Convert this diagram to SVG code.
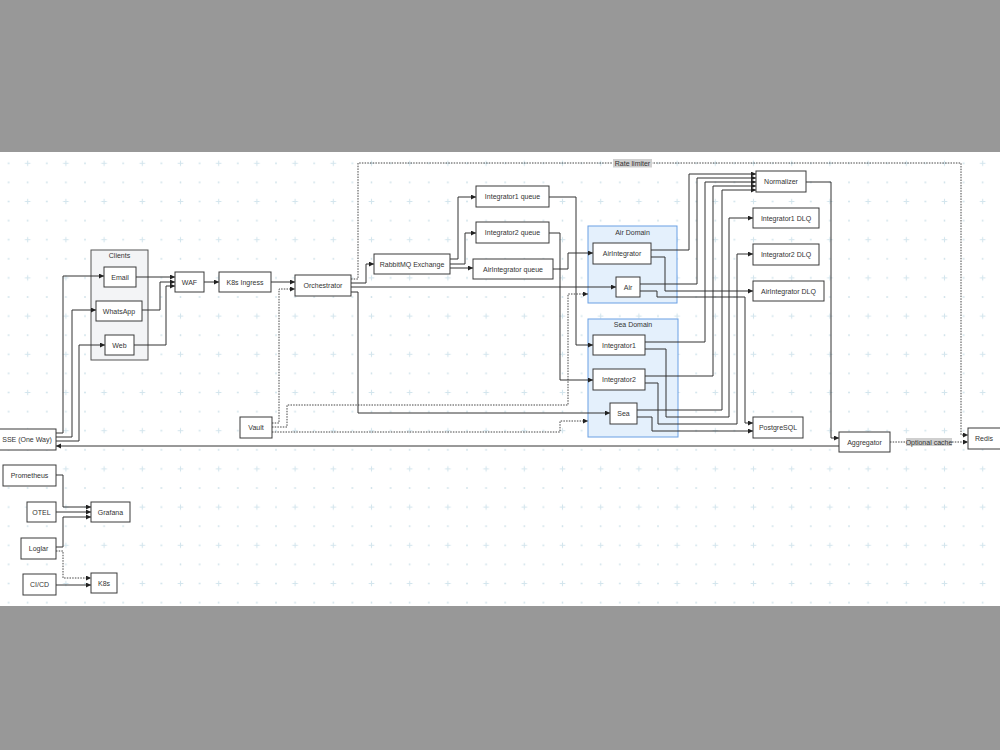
<svg xmlns="http://www.w3.org/2000/svg" width="1000" height="750" viewBox="0 0 1000 750">
<defs>
<pattern id="grid" patternUnits="userSpaceOnUse" x="8.6" y="144.2" width="38.2" height="38.2">
<circle cx="0" cy="0" r="0.9" fill="#cfe2ea"/>
<circle cx="19.1" cy="0" r="0.9" fill="#cfe2ea"/>
<circle cx="0" cy="19.1" r="0.9" fill="#cfe2ea"/>
<circle cx="38.2" cy="0" r="0.9" fill="#cfe2ea"/>
<circle cx="0" cy="38.2" r="0.9" fill="#cfe2ea"/>
<circle cx="38.2" cy="38.2" r="0.9" fill="#cfe2ea"/>
<circle cx="38.2" cy="19.1" r="0.9" fill="#cfe2ea"/>
<circle cx="19.1" cy="38.2" r="0.9" fill="#cfe2ea"/>
<path d="M16.3,19.1 H21.9 M19.1,16.3 V21.9" stroke="#d3e5ed" stroke-width="1.1"/>
</pattern>
<marker id="arr" markerUnits="userSpaceOnUse" markerWidth="6" markerHeight="6" refX="5" refY="2.5" orient="auto">
<path d="M0,0 L5,2.5 L0,5 z" fill="#222"/>
</marker>
<style>
.bg{fill:#989898}
.n rect{fill:#ffffff;stroke:#3a3a3a;stroke-width:1}
.n text,.g text,.lbl text{font-family:"Liberation Sans",Arial,sans-serif;font-size:7px;fill:#333;text-anchor:middle;dominant-baseline:central}
.g.clients rect{fill:#f3f4f6;stroke:#555;stroke-width:1}
.g.dom rect{fill:#e4f0fc;stroke:#6aa0e4;stroke-width:1}
.c path{fill:none;stroke:#333;stroke-width:1}
.c path.a{marker-end:url(#arr)}
.c path.d{stroke-dasharray:1.5 1.2;stroke:#444}
.lbl rect{fill:#cfcfcf}
</style>
</defs>
<rect x="0" y="0" width="1000" height="750" fill="#ffffff"/>
<rect x="0" y="152" width="1000" height="454" fill="url(#grid)"/>
<rect class="bg" x="0" y="0" width="1000" height="152"/>
<rect class="bg" x="0" y="606" width="1000" height="144"/>

<g id="clients" class="g clients"><rect x="91" y="250" width="57" height="110"/><text x="119.5" y="255.5">Clients</text></g>
<g id="air-domain" class="g dom"><rect x="588" y="226" width="89" height="77"/><text x="632.5" y="232">Air Domain</text></g>
<g id="sea-domain" class="g dom"><rect x="588" y="319" width="90" height="118"/><text x="633" y="324">Sea Domain</text></g>

<g id="connectors" class="c">
<path class="a" d="M56,433 H63 V276 H104"/>
<path class="a" d="M56,437 H72 V310 H96"/>
<path class="a" d="M56,441 H79 V345 H105"/>
<path class="a" d="M136,277 H175"/>
<path class="a" d="M142,310 H160 V282 H175"/>
<path class="a" d="M134,345 H166 V286 H175"/>
<path class="a" d="M204,282 H219"/>
<path class="a" d="M271,282 H295"/>
<path class="a d" d="M272,423 H279 V289 H295"/>
<path class="a d" d="M272,427 H287 V405 H568 V294 H588"/>
<path class="a d" d="M272,432 H560 V421 H588"/>
<path class="a" d="M351,283 H366 V264 H374"/>
<path class="a d" d="M351,279 H358 V163 H961 V435 H968"/>
<path class="a" d="M351,287 H616"/>
<path class="a" d="M351,292 H358 V413 H610"/>
<path class="a" d="M450,259 H458 V197 H476"/>
<path class="a" d="M450,264 H465 V233 H476"/>
<path class="a" d="M450,268 H473"/>
<path class="a" d="M549,197 H576 V345 H593"/>
<path class="a" d="M549,233 H560 V380 H593"/>
<path class="a" d="M553,269 H568 V253 H593"/>
<path class="a" d="M651,250 H689 V174 H756"/>
<path class="a" d="M640,284 H697 V178 H756"/>
<path class="a" d="M645,342 H705 V182 H756"/>
<path class="a" d="M645,376 H713 V186 H756"/>
<path class="a" d="M637,410 H722 V190 H756"/>
<path class="a" d="M651,257 H665 V291 H753"/>
<path class="a" d="M645,349 H666 V417 H729 V218 H753"/>
<path class="a" d="M645,383 H658 V424 H737 V254 H753"/>
<path class="a" d="M640,291 H657 V297 H745 V423 H753"/>
<path class="a" d="M637,417 H652 V431 H753"/>
<path class="a" d="M806,182 H831 V438 H839"/>
<path class="a" d="M839,446 H56"/>
<path class="a d" d="M890,442 H968"/>
<path class="a" d="M56,475 H63 V507 H91"/>
<path class="a" d="M56,512 H91"/>
<path class="a" d="M56,547 H63 V517 H91"/>
<path class="a d" d="M56,551 H63 V578 H91"/>
<path class="a" d="M56,585 H91"/>
</g>

<g id="labels" class="lbl">
<rect x="613" y="159" width="39" height="8.5"/><text x="632.5" y="163.2">Rate limiter</text>
<rect x="906" y="438" width="46" height="8"/><text x="929" y="442">Optional cache</text>
</g>

<g id="email" class="n"><rect x="104" y="267" width="32" height="20"/><text x="120" y="277">Email</text></g>
<g id="whatsapp" class="n"><rect x="96" y="301" width="46" height="20"/><text x="119" y="311">WhatsApp</text></g>
<g id="web" class="n"><rect x="105" y="335" width="29" height="20"/><text x="119.5" y="345">Web</text></g>
<g id="waf" class="n"><rect x="175" y="272" width="29" height="20"/><text x="189.5" y="282">WAF</text></g>
<g id="k8s-ingress" class="n"><rect x="219" y="272" width="52" height="20"/><text x="245" y="282">K8s Ingress</text></g>
<g id="orchestrator" class="n"><rect x="295" y="275" width="56" height="21"/><text x="323" y="285.5">Orchestrator</text></g>
<g id="vault" class="n"><rect x="240" y="417" width="32" height="21"/><text x="256" y="427.5">Vault</text></g>
<g id="sse" class="n"><rect x="-1" y="429" width="57" height="21"/><text x="27" y="439.5">SSE (One Way)</text></g>
<g id="rabbitmq" class="n"><rect x="374" y="254" width="76" height="20"/><text x="412" y="264">RabbitMQ Exchange</text></g>
<g id="i1-queue" class="n"><rect x="476" y="186" width="73" height="21"/><text x="512.5" y="196.5">Integrator1 queue</text></g>
<g id="i2-queue" class="n"><rect x="476" y="222" width="73" height="21"/><text x="512.5" y="232.5">Integrator2 queue</text></g>
<g id="air-queue" class="n"><rect x="473" y="259" width="80" height="20"/><text x="513" y="269">AirIntegrator queue</text></g>
<g id="airintegrator" class="n"><rect x="593" y="243" width="58" height="21"/><text x="622" y="253.5">AirIntegrator</text></g>
<g id="air" class="n"><rect x="616" y="277" width="24" height="20"/><text x="628" y="287">Air</text></g>
<g id="integrator1" class="n"><rect x="593" y="335" width="52" height="20"/><text x="619" y="345">Integrator1</text></g>
<g id="integrator2" class="n"><rect x="593" y="369" width="52" height="21"/><text x="619" y="379.5">Integrator2</text></g>
<g id="sea" class="n"><rect x="610" y="403" width="27" height="21"/><text x="623.5" y="413.5">Sea</text></g>
<g id="normalizer" class="n"><rect x="756" y="171" width="50" height="21"/><text x="781" y="181.5">Normalizer</text></g>
<g id="i1-dlq" class="n"><rect x="753" y="208" width="66" height="20"/><text x="786" y="218">Integrator1 DLQ</text></g>
<g id="i2-dlq" class="n"><rect x="753" y="244" width="66" height="21"/><text x="786" y="254.5">Integrator2 DLQ</text></g>
<g id="air-dlq" class="n"><rect x="753" y="281" width="71" height="20"/><text x="788.5" y="291">AirIntegrator DLQ</text></g>
<g id="postgresql" class="n"><rect x="753" y="417" width="50" height="21"/><text x="778" y="427.5">PostgreSQL</text></g>
<g id="aggregator" class="n"><rect x="839" y="432" width="51" height="20"/><text x="864.5" y="442">Aggregator</text></g>
<g id="redis" class="n"><rect x="968" y="428" width="33" height="21"/><text x="984" y="438.5">Redis</text></g>
<g id="prometheus" class="n"><rect x="3" y="465" width="53" height="21"/><text x="29.5" y="475.5">Prometheus</text></g>
<g id="otel" class="n"><rect x="27" y="502" width="29" height="20"/><text x="41.5" y="512">OTEL</text></g>
<g id="loglar" class="n"><rect x="21" y="538" width="35" height="21"/><text x="38.5" y="548.5">Loglar</text></g>
<g id="cicd" class="n"><rect x="23" y="574" width="33" height="21"/><text x="39.5" y="584.5">CI/CD</text></g>
<g id="grafana" class="n"><rect x="91" y="502" width="39" height="20"/><text x="110.5" y="512">Grafana</text></g>
<g id="k8s" class="n"><rect x="91" y="573" width="26" height="20"/><text x="104" y="583">K8s</text></g>
</svg>
